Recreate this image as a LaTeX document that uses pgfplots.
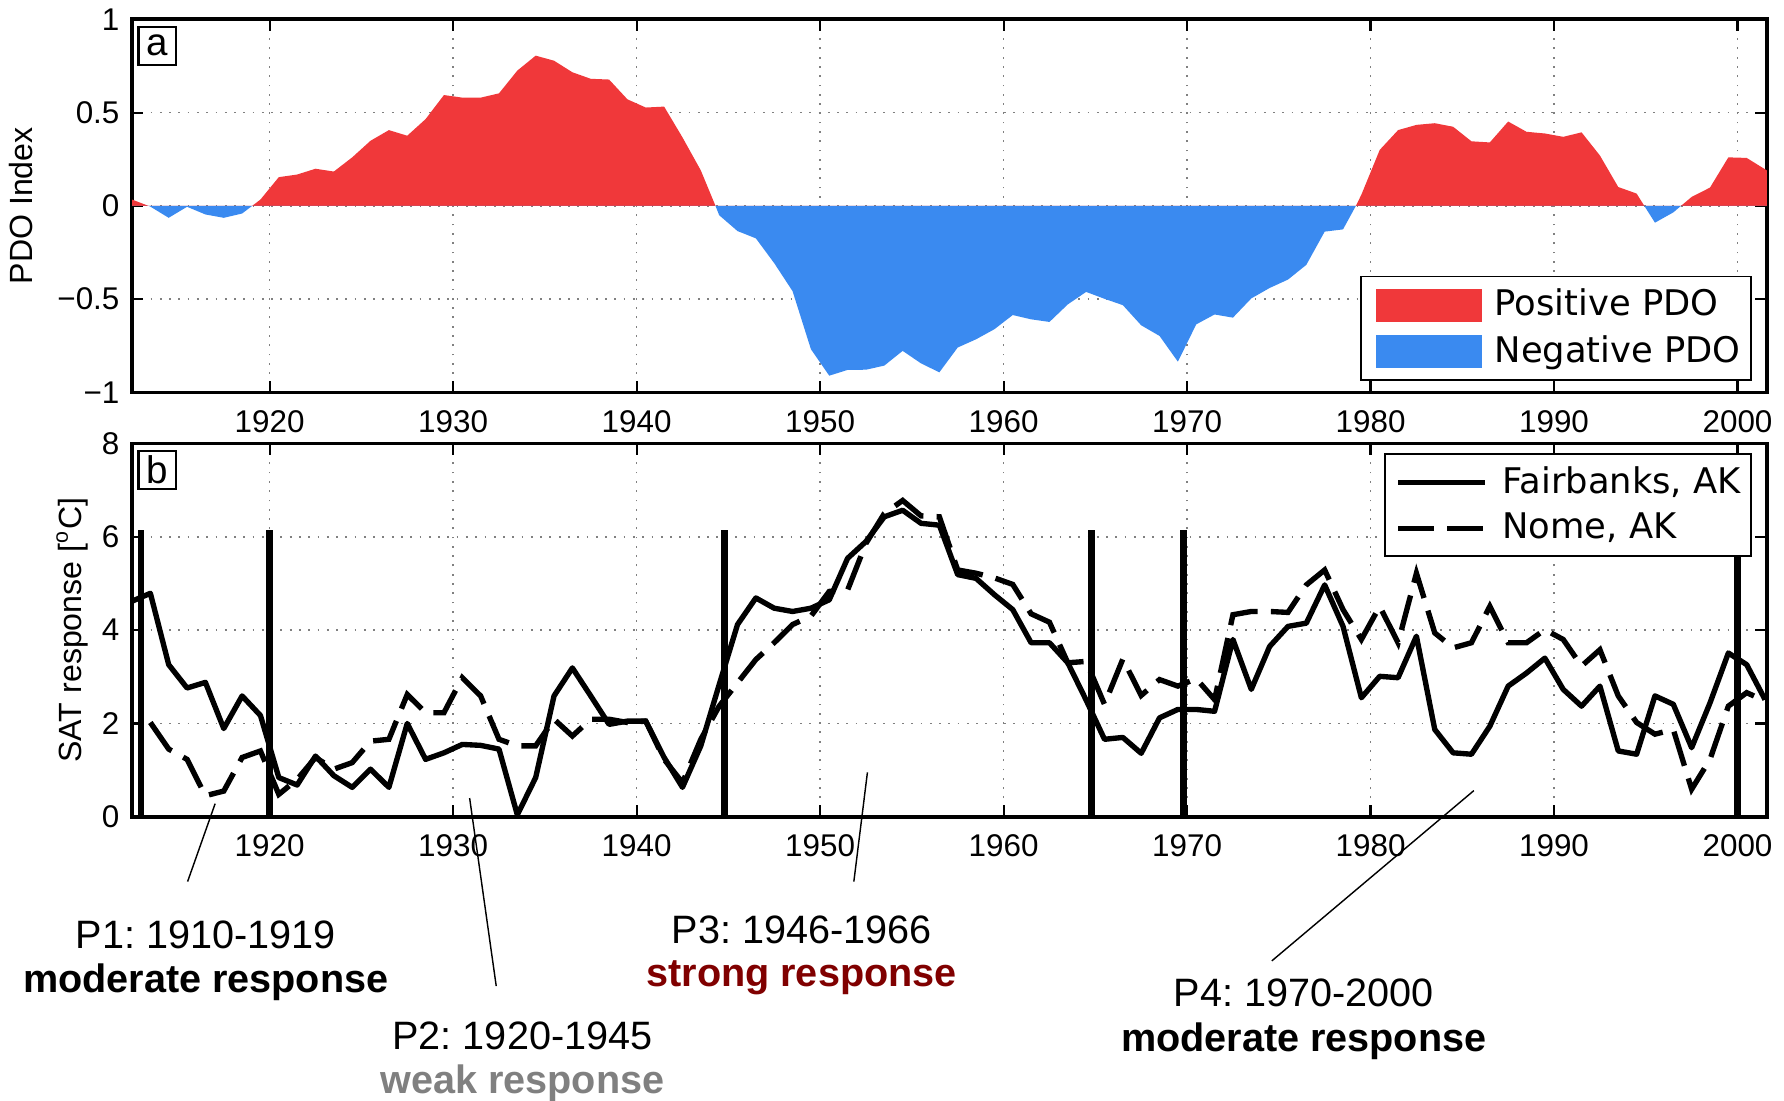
\documentclass[border=0pt]{standalone}
\usepackage{fontspec}
\setmainfont{Liberation Sans}
\newfontfamily\legfont{DejaVu Sans}
\usepackage{pgfplots}
\usepackage{pgfplotstable}
\pgfplotsset{compat=1.18}

\definecolor{pdored}{RGB}{240,56,58}
\definecolor{pdoblue}{RGB}{58,138,240}
\definecolor{strongred}{RGB}{128,0,0}
\definecolor{weakgray}{RGB}{128,128,128}

% PDO index (zero crossings included so the two fills meet cleanly)
\pgfplotstableread{
yr v
1912.5 0.034
1913.4 0
1913.5 -0.004
1914.5 -0.064
1915.5 -0.005
1916.5 -0.046
1917.5 -0.064
1918.5 -0.041
1919.05 0
1919.5 0.034
1920.5 0.154
1921.5 0.168
1922.5 0.199
1923.5 0.184
1924.5 0.26
1925.5 0.349
1926.5 0.406
1927.5 0.376
1928.5 0.465
1929.5 0.594
1930.5 0.58
1931.5 0.58
1932.5 0.603
1933.5 0.725
1934.5 0.805
1935.5 0.778
1936.5 0.716
1937.5 0.681
1938.5 0.677
1939.5 0.571
1940.5 0.527
1941.5 0.532
1942.5 0.367
1943.5 0.19
1944.3 0
1944.5 -0.05
1945.5 -0.135
1946.5 -0.174
1947.5 -0.307
1948.5 -0.457
1949.5 -0.768
1950.5 -0.91
1951.5 -0.879
1952.5 -0.878
1953.5 -0.856
1954.5 -0.777
1955.5 -0.844
1956.5 -0.892
1957.5 -0.759
1958.5 -0.715
1959.5 -0.661
1960.5 -0.585
1961.5 -0.608
1962.5 -0.622
1963.5 -0.528
1964.5 -0.461
1965.5 -0.498
1966.5 -0.532
1967.5 -0.64
1968.5 -0.697
1969.5 -0.835
1970.5 -0.635
1971.5 -0.582
1972.5 -0.599
1973.5 -0.496
1974.5 -0.44
1975.5 -0.395
1976.5 -0.316
1977.5 -0.138
1978.5 -0.126
1979.2 0
1979.5 0.06
1980.5 0.30
1981.5 0.406
1982.5 0.434
1983.5 0.443
1984.5 0.424
1985.5 0.346
1986.5 0.34
1987.5 0.452
1988.5 0.397
1989.5 0.388
1990.5 0.37
1991.5 0.394
1992.5 0.27
1993.5 0.101
1994.5 0.066
1994.92 0
1995.5 -0.09
1996.5 -0.035
1996.92 0
1997.5 0.048
1998.5 0.098
1999.5 0.26
2000.5 0.257
2001.6 0.19
}\pdo

% SAT response, Fairbanks and Nome
\pgfplotstableread{
yr fbk nome
1912.5 4.62 nan
1913.5 4.79 2.02
1914.5 3.26 1.45
1915.5 2.76 1.23
1916.5 2.88 0.45
1917.5 1.89 0.55
1918.5 2.59 1.27
1919.5 2.17 1.41
1920.5 0.84 0.48
1921.5 0.68 0.80
1922.5 1.30 1.27
1923.5 0.88 1.02
1924.5 0.63 1.16
1925.5 1.02 1.62
1926.5 0.63 1.66
1927.5 2.00 2.62
1928.5 1.23 2.23
1929.5 1.37 2.23
1930.5 1.55 2.98
1931.5 1.53 2.59
1932.5 1.45 1.66
1933.5 0.04 1.52
1934.5 0.84 1.52
1935.5 2.59 2.09
1936.5 3.19 1.73
1937.5 2.59 2.09
1938.5 1.98 2.09
1939.5 2.05 2.02
1940.5 2.05 2.05
1941.5 1.27 1.23
1942.5 0.63 0.73
1943.5 1.52 1.66
1944.5 2.83 2.37
1945.5 4.12 2.87
1946.5 4.69 3.37
1947.5 4.47 3.73
1948.5 4.40 4.12
1949.5 4.47 4.30
1950.5 4.65 4.83
1951.5 5.54 4.86
1952.5 5.90 5.86
1953.5 6.43 6.50
1954.5 6.57 6.78
1955.5 6.29 6.45
1956.5 6.25 6.43
1957.5 5.19 5.29
1958.5 5.11 5.22
1959.5 4.76 5.12
1960.5 4.44 4.98
1961.5 3.73 4.35
1962.5 3.73 4.17
1963.5 3.30 3.30
1964.5 2.50 3.33
1965.5 1.66 2.41
1966.5 1.70 3.38
1967.5 1.36 2.60
1968.5 2.12 2.94
1969.5 2.30 2.80
1970.5 2.30 2.96
1971.5 2.26 2.51
1972.5 3.80 4.33
1973.5 2.73 4.40
1974.5 3.65 4.40
1975.5 4.08 4.38
1976.5 4.15 4.97
1977.5 4.97 5.29
1978.5 4.08 4.44
1979.5 2.55 3.80
1980.5 3.01 4.51
1981.5 2.98 3.73
1982.5 3.87 5.22
1983.5 1.87 3.94
1984.5 1.37 3.62
1985.5 1.34 3.73
1986.5 1.94 4.51
1987.5 2.80 3.73
1988.5 3.08 3.73
1989.5 3.40 4.01
1990.5 2.73 3.80
1991.5 2.37 3.23
1992.5 2.80 3.58
1993.5 1.41 2.59
1994.5 1.34 2.02
1995.5 2.59 1.77
1996.5 2.41 1.87
1997.5 1.48 0.59
1998.5 2.44 1.23
1999.5 3.51 2.37
2000.5 3.26 2.66
2001.5 2.51 2.48
}\sat

\pgfplotsset{
  panel/.style={
    width=458.2pt, height=104.6pt, scale only axis,
    xmin=1912.5, xmax=2001.6,
    xtick={1920,1930,...,2000},
    tick align=inside, major tick length=3.2pt,
    axis line style={line width=1pt},
    tick style={black, line width=0.6pt},
    grid=major,
    major grid style={gray, line width=0.45pt, dash pattern=on 0.5pt off 2.1pt},
    tick label style={font=\fontsize{8.8}{10}\selectfont},
    xticklabel style={yshift=-1.4pt},
    /pgf/number format/assume math mode=true,
    /pgf/number format/1000 sep={},
    ylabel style={font=\fontsize{9}{11}\selectfont},
    legend cell align=left,
    legend style={font=\legfont\fontsize{9.9}{11.6}\selectfont, draw=black,
      line width=0.5pt, inner xsep=2pt, inner ysep=1.5pt, row sep=0pt,
      nodes={inner xsep=0.9pt}},
  },
}
\tikzset{
  panellabel/.style={draw, line width=0.6pt, minimum size=10.6pt, inner sep=0pt,
    anchor=north west, xshift=1.5pt, yshift=-1.8pt, font=\fontsize{10.8}{12}\selectfont},
}

\newcommand{\annfont}{\fontsize{11.1}{13}\selectfont}
\frenchspacing

\begin{document}
\begin{tikzpicture}
\useasboundingbox (-37pt,-79.4pt) rectangle (463pt,228.9pt);

% panel a
\begin{axis}[panel, at={(0pt,118.9pt)},
    ymin=-1, ymax=1,
    ytick={-1,-0.5,0,0.5,1},
    yticklabels={−1,−0.5,0,0.5,1},
    ylabel={PDO Index},
    legend style={at={(rel axis cs:1,0)}, anchor=south east, xshift=-4.2pt, yshift=3.2pt},
    legend image code/.code={\path (0pt,0pt) (34.5pt,0pt); \fill[#1] (2.2pt,-4.6pt) rectangle (31.8pt,4.6pt);},
  ]
  \addplot[fill=pdored, draw=none] table[x=yr, y expr={max(\thisrow{v},0)}] {\pdo} \closedcycle;
  \addlegendentry{Positive PDO}
  \addplot[fill=pdoblue, draw=none] table[x=yr, y expr={min(\thisrow{v},0)}] {\pdo} \closedcycle;
  \addlegendentry{Negative PDO}
  \node[panellabel] at (rel axis cs:0,1) {a};
\end{axis}

% panel b
\begin{axis}[panel, at={(0pt,0pt)}, clip=false,
    ymin=0, ymax=8,
    ytick={0,2,4,6,8},
    ylabel={SAT response [\textsuperscript{o}C]},
    ylabel style={yshift=-3pt},
    legend style={at={(rel axis cs:1,1)}, anchor=north east, xshift=-4.2pt, yshift=-2.6pt},
    legend image code/.code={\path (0pt,0pt) (28.6pt,0pt); \draw[#1] (1pt,0pt) -- (25.3pt,0pt);},
  ]
  \addplot[black, line width=1.5pt, line join=round] table[x=yr, y=fbk] {\sat};
  \addlegendentry{Fairbanks, AK}
  \addplot[black, line width=1.5pt, dash pattern=on 10pt off 3.7pt] table[x=yr, y=nome] {\sat};
  \addlegendentry{Nome, AK}

  % period boundaries
  \addplot[black, line width=1.8pt, forget plot] coordinates {(1913,0) (1913,6.15)};
  \addplot[black, line width=1.8pt, forget plot] coordinates {(1920,0) (1920,6.15)};
  \addplot[black, line width=1.8pt, forget plot] coordinates {(1944.8,0) (1944.8,6.15)};
  \addplot[black, line width=1.8pt, forget plot] coordinates {(1964.8,0) (1964.8,6.15)};
  \addplot[black, line width=1.8pt, forget plot] coordinates {(1969.8,0) (1969.8,6.15)};
  \addplot[black, line width=1.8pt, forget plot] coordinates {(2000,0) (2000,6.15)};

  \node[panellabel] at (rel axis cs:0,1) {b};

  % annotations
  \draw[line width=0.4pt] (axis cs:1915.53,-1.39) -- (axis cs:1917.03,0.28);
  \draw[line width=0.4pt] (axis cs:1932.35,-3.63) -- (axis cs:1930.9,0.40);
  \draw[line width=0.4pt] (axis cs:1951.84,-1.39) -- (axis cs:1952.58,0.95);
  \draw[line width=0.4pt] (axis cs:1974.62,-3.09) -- (axis cs:1985.63,0.56);

  \node[anchor=base, font=\annfont] at (axis cs:1916.52,-2.83) {P1: 1910-1919};
  \node[anchor=base, font=\annfont\bfseries] at (axis cs:1916.52,-3.76) {moderate response};
  \node[anchor=base, font=\annfont] at (axis cs:1933.78,-5.0) {P2: 1920-1945};
  \node[anchor=base, font=\annfont\bfseries, text=weakgray] at (axis cs:1933.78,-5.93) {weak response};
  \node[anchor=base, font=\annfont] at (axis cs:1948.99,-2.71) {P3: 1946-1966};
  \node[anchor=base, font=\annfont\bfseries, text=strongred] at (axis cs:1948.99,-3.64) {strong response};
  \node[anchor=base, font=\annfont] at (axis cs:1976.36,-4.07) {P4: 1970-2000};
  \node[anchor=base, font=\annfont\bfseries] at (axis cs:1976.36,-5.03) {moderate response};
\end{axis}
\end{tikzpicture}
\end{document}
